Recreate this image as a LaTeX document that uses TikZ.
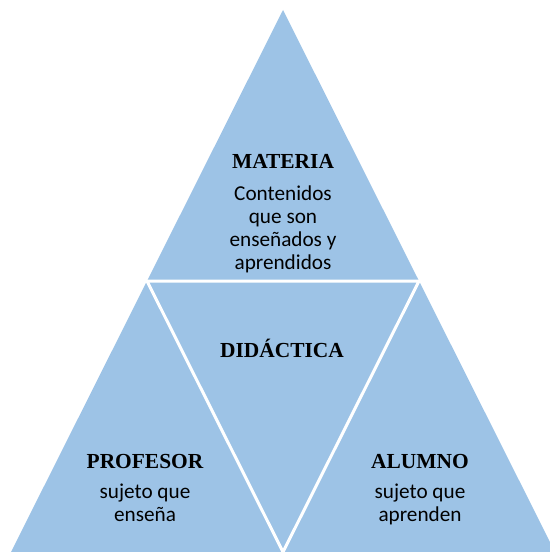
\documentclass[tikz,border=0pt]{standalone}
\usepackage{fontspec}
\setmainfont{Liberation Serif}
\newfontfamily\calib{Carlito}
\definecolor{triblue}{HTML}{9DC3E6}
\begin{document}
\begin{tikzpicture}[x=1bp,y=-1bp,
  title/.style={font=\fontsize{21.5}{23}\selectfont\bfseries, anchor=base, inner sep=0pt},
  body/.style={font=\calib\fontsize{21.3}{23}\selectfont, align=center, anchor=base, inner sep=0pt}]
\useasboundingbox (0,0) rectangle (550,552);
\begin{scope}
\clip (0,0) rectangle (550,552);
\coordinate (apex) at (283,10);
\coordinate (bl) at (11,552);
\coordinate (br) at (555,552);
\coordinate (ml) at (147,281);
\coordinate (mr) at (419,281);
\coordinate (mb) at (283,552);
\fill[triblue] (apex) -- (bl) -- (br) -- cycle;
\draw[white, line width=3bp] (ml) -- (mr) -- (mb) -- cycle;
\end{scope}
\node[title] (materia) at (283,169) {MATERIA};
\node[body] (materiatxt) at (283,269) {Contenidos\\que son\\enseñados y\\aprendidos};
\node[title] (didactica) at (282,357) {DIDÁCTICA};
\node[title] (profesor) at (145,468) {PROFESOR};
\node[body] (profesortxt) at (145,521) {sujeto que\\enseña};
\node[title] (alumno) at (420,468) {ALUMNO};
\node[body] (alumnotxt) at (420,521) {sujeto que\\aprenden};
\end{tikzpicture}
\end{document}
